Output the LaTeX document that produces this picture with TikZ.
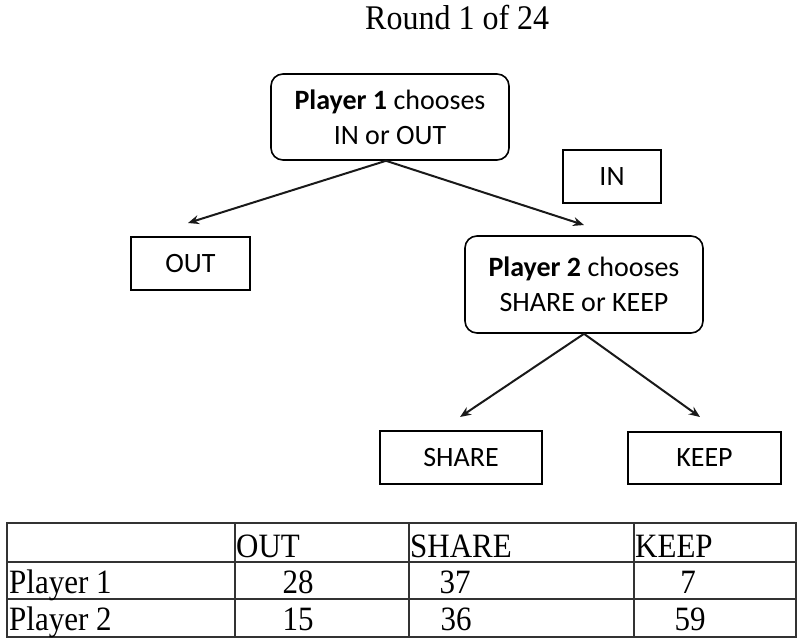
\documentclass[tikz,border=0pt]{standalone}
\usepackage{fontspec}
\setmainfont{Liberation Serif}
\newfontfamily\boxfont{Carlito}
\usetikzlibrary{arrows.meta}
\begin{document}
\begin{tikzpicture}[x=1pt,y=-1pt,
  box/.style={draw=black, line width=1.6pt, inner sep=0pt, align=center,
    font=\boxfont\fontsize{28}{35}\selectfont},
  rbox/.style={box, rounded corners=12pt},
  arr/.style={line width=2pt, draw=black!90, -{Stealth[length=11pt,width=9pt]}},
  tline/.style={line width=1.5pt, draw=black!80},
  ttext/.style={anchor=base west, inner sep=0pt, font=\fontsize{31}{31}\selectfont},
  tnum/.style={anchor=base, inner sep=0pt, font=\fontsize{31}{31}\selectfont},
]
\useasboundingbox (0,0) rectangle (799,639);

% title
\node[anchor=base west, inner sep=0pt, font=\fontsize{32}{32}\selectfont] (title) at (365,30)
  {\scalebox{1}[1.08]{Round 1 of 24}};

% boxes
\node[rbox, minimum width=238pt, minimum height=86pt] (p1) at (390,117)
  {\textbf{Player 1} chooses\\IN or OUT};
\node[box, minimum width=98pt, minimum height=53pt] (in) at (612,176.5) {IN};
\node[box, minimum width=119pt, minimum height=53pt] (out) at (190.5,263.5) {OUT};
\node[rbox, minimum width=238pt, minimum height=97pt] (p2) at (584,284.5)
  {\textbf{Player 2} chooses\\SHARE or KEEP};
\node[box, minimum width=162pt, minimum height=53pt] (share) at (461,457.5) {SHARE};
\node[box, minimum width=153pt, minimum height=52pt] (keep) at (704.5,458) {KEEP};

% arrows
\coordinate (outtip) at (188,223);
\coordinate (intip) at (584,225);
\coordinate (sharetip) at (460,417);
\coordinate (keeptip) at (700,417);
\draw[arr] ([xshift=-4pt]p1.south) -- (outtip);
\draw[arr] ([xshift=-4pt]p1.south) -- (intip);
\draw[arr] (p2.south) -- (sharetip);
\draw[arr] (p2.south) -- (keeptip);

% table
\draw[tline] (7,523) rectangle (796,637);
\draw[tline] (7,562) -- (796,562);
\draw[tline] (7,599) -- (796,599);
\draw[tline] (235,523) -- (235,637);
\draw[tline] (409,523) -- (409,637);
\draw[tline] (634,523) -- (634,637);

\node[ttext] (hout) at (236,557) {\scalebox{1}[1.1]{OUT}};
\node[ttext] (hshare) at (410,557) {\scalebox{1}[1.1]{SHARE}};
\node[ttext] (hkeep) at (635,557) {\scalebox{1}[1.1]{KEEP}};
\node[ttext] (r1) at (9,593) {\scalebox{1}[1.1]{Player 1}};
\node[ttext] (r2) at (9,630) {\scalebox{1}[1.1]{Player 2}};
\node[tnum] (a1) at (298,593) {\scalebox{1}[1.1]{28}};
\node[tnum] (b1) at (455,593) {\scalebox{1}[1.1]{37}};
\node[tnum] (c1) at (688,593) {\scalebox{1}[1.1]{7}};
\node[tnum] (a2) at (298,630) {\scalebox{1}[1.1]{15}};
\node[tnum] (b2) at (456,630) {\scalebox{1}[1.1]{36}};
\node[tnum] (c2) at (690,630) {\scalebox{1}[1.1]{59}};
\end{tikzpicture}
\end{document}
